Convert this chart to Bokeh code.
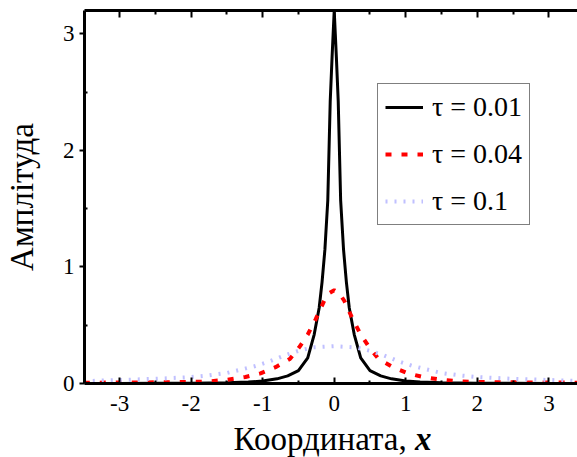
from bokeh.plotting import figure
from bokeh.models import Range1d, FixedTicker, LinearAxis, Legend, LegendItem, Div
from bokeh.layouts import column
from bokeh.embed import file_html
from bokeh.resources import INLINE

# ---- data ----
x_black = [-3.5, -3.0, -2.5, -2.0, -1.5, -1.2, -1.0, -0.8, -0.65, -0.5, -0.37, -0.28, -0.21, -0.17, -0.13, -0.09, -0.056, -0.03, -0.015, 0.0,
           0.015, 0.03, 0.056, 0.09, 0.13, 0.17, 0.21, 0.28, 0.37, 0.5, 0.65, 0.8, 1.0, 1.2, 1.5, 2.0, 2.5, 3.0, 3.5]
y_black = [0.001, 0.001, 0.002, 0.003, 0.006, 0.012, 0.022, 0.04, 0.065, 0.11, 0.22, 0.42, 0.65, 0.87, 1.15, 1.57, 2.42, 2.8, 3.0, 3.2,
           3.0, 2.8, 2.42, 1.57, 1.15, 0.87, 0.65, 0.42, 0.22, 0.11, 0.065, 0.04, 0.022, 0.012, 0.006, 0.003, 0.002, 0.001, 0.001]

x_red = [-3.5, -3.0, -2.5, -2.0, -1.75, -1.5, -1.24, -1.03, -0.82, -0.62, -0.49, -0.37, -0.26, -0.2, -0.14, -0.07, 0.0,
         0.07, 0.14, 0.2, 0.26, 0.37, 0.49, 0.62, 0.82, 1.03, 1.24, 1.5, 1.75, 2.0, 2.5, 3.0, 3.5]
y_red = [0.007, 0.008, 0.01, 0.013, 0.018, 0.032, 0.056, 0.087, 0.14, 0.21, 0.31, 0.42, 0.55, 0.63, 0.71, 0.775, 0.80,
         0.775, 0.71, 0.63, 0.55, 0.42, 0.31, 0.21, 0.14, 0.087, 0.056, 0.032, 0.018, 0.013, 0.01, 0.008, 0.007]

x_blue = [-3.5, -3.0, -2.5, -2.0, -1.75, -1.5, -1.3, -1.1, -0.9, -0.7, -0.5, -0.3, 0.0,
          0.3, 0.5, 0.7, 0.9, 1.1, 1.3, 1.5, 1.75, 2.0, 2.5, 3.0, 3.5]
y_blue = [0.02, 0.03, 0.04, 0.055, 0.07, 0.09, 0.12, 0.15, 0.19, 0.24, 0.28, 0.31, 0.32,
          0.31, 0.28, 0.24, 0.19, 0.15, 0.12, 0.09, 0.07, 0.055, 0.04, 0.03, 0.02]

series_labels = ["τ = 0.01", "τ = 0.04", "τ = 0.1"]

x_tick_vals = [-3, -2, -1, 0, 1, 2, 3]
x_tick_labels = ["-3", "-2", "-1", "0", "1", "2", "3"]
x_minor_vals = [-3.5, -2.5, -1.5, -0.5, 0.5, 1.5, 2.5, 3.5]
y_tick_vals = [0, 1, 2, 3]
y_tick_labels = ["0", "1", "2", "3"]
y_minor_vals = [0.5, 1.5, 2.5]

x_title = "Координата,"
x_title_var = "x"
y_title = "Амплітуда"

FONT = "Liberation Serif, serif"

p = figure(width=577, height=421, output_backend="svg", toolbar_location=None,
           x_range=Range1d(-3.49, 3.4), y_range=Range1d(0, 3.2),
           min_border_left=83, min_border_right=0, min_border_top=10, min_border_bottom=38)
p.outline_line_color = None
p.xgrid.visible = False
p.ygrid.visible = False
p.background_fill_color = "white"

r_black = p.line(x_black, y_black, line_color="black", line_width=3, line_join="round")
r_red = p.line(x_red, y_red, line_color="#ff0000", line_width=4, line_dash="6 10")
r_blue = p.line(x_blue, y_blue, line_color="#c0c0ff", line_width=4, line_dash="2 7")

# bottom axis
xa = p.xaxis[0]
xa.ticker = FixedTicker(ticks=x_tick_vals, minor_ticks=x_minor_vals)
xa.major_label_overrides = {v: s for v, s in zip(x_tick_vals, x_tick_labels)}
xa.axis_line_width = 3
xa.major_tick_in = 6
xa.major_tick_out = 0
xa.minor_tick_in = 3
xa.minor_tick_out = 0
xa.major_tick_line_width = 2
xa.minor_tick_line_width = 2
xa.major_label_standoff = 12
xa.major_label_text_font = FONT
xa.major_label_text_font_size = "23px"
xa.major_label_text_color = "black"

# left axis
ya = p.yaxis[0]
ya.ticker = FixedTicker(ticks=y_tick_vals, minor_ticks=y_minor_vals)
ya.major_label_overrides = {v: s for v, s in zip(y_tick_vals, y_tick_labels)}
ya.axis_line_width = 3
ya.major_tick_in = 0
ya.major_tick_out = 5
ya.minor_tick_in = 3
ya.minor_tick_out = 0
ya.major_tick_line_width = 2
ya.minor_tick_line_width = 2
ya.major_label_standoff = 5
ya.major_label_text_font = FONT
ya.major_label_text_font_size = "23px"
ya.major_label_text_color = "black"
ya.axis_label = y_title
ya.axis_label_text_font = FONT
ya.axis_label_text_font_size = "33px"
ya.axis_label_text_font_style = "normal"
ya.axis_label_text_color = "black"
ya.axis_label_standoff = 20

# top axis (ticks only)
ta = LinearAxis(ticker=FixedTicker(ticks=x_tick_vals, minor_ticks=x_minor_vals))
ta.axis_line_width = 3
ta.major_tick_in = 7
ta.major_tick_out = 0
ta.minor_tick_in = 4
ta.minor_tick_out = 0
ta.major_tick_line_width = 2
ta.minor_tick_line_width = 2
ta.major_label_text_font_size = "0px"
ta.major_label_standoff = 0
ta.major_label_overrides = {v: "" for v in x_tick_vals}
p.add_layout(ta, "above")

legend = Legend(items=[LegendItem(label=series_labels[0], renderers=[r_black]),
                       LegendItem(label=series_labels[1], renderers=[r_red]),
                       LegendItem(label=series_labels[2], renderers=[r_blue])],
                location=(293, 158))
legend.label_text_font = FONT
legend.label_text_font_size = "28px"
legend.label_text_color = "black"
legend.glyph_width = 38
legend.glyph_height = 20
legend.label_standoff = 9
legend.padding = 7
legend.spacing = 15
legend.margin = 0
legend.border_line_color = "black"
legend.border_line_width = 1
legend.background_fill_alpha = 1
p.add_layout(legend)

xlabel = Div(
    text=('<div style="font-family: \'Liberation Serif\', serif; font-size: 33px; line-height: 36px; color: black; '
          'box-sizing: border-box; text-align: center; padding-left: 88px; width: 577px; height: 36px; '
          f'white-space: nowrap;">{x_title} <b><i>{x_title_var}</i></b></div>'),
    width=577, height=36, margin=0)

layout = column(p, xlabel, spacing=0)

open("out.html", "w").write(file_html(layout, INLINE))
